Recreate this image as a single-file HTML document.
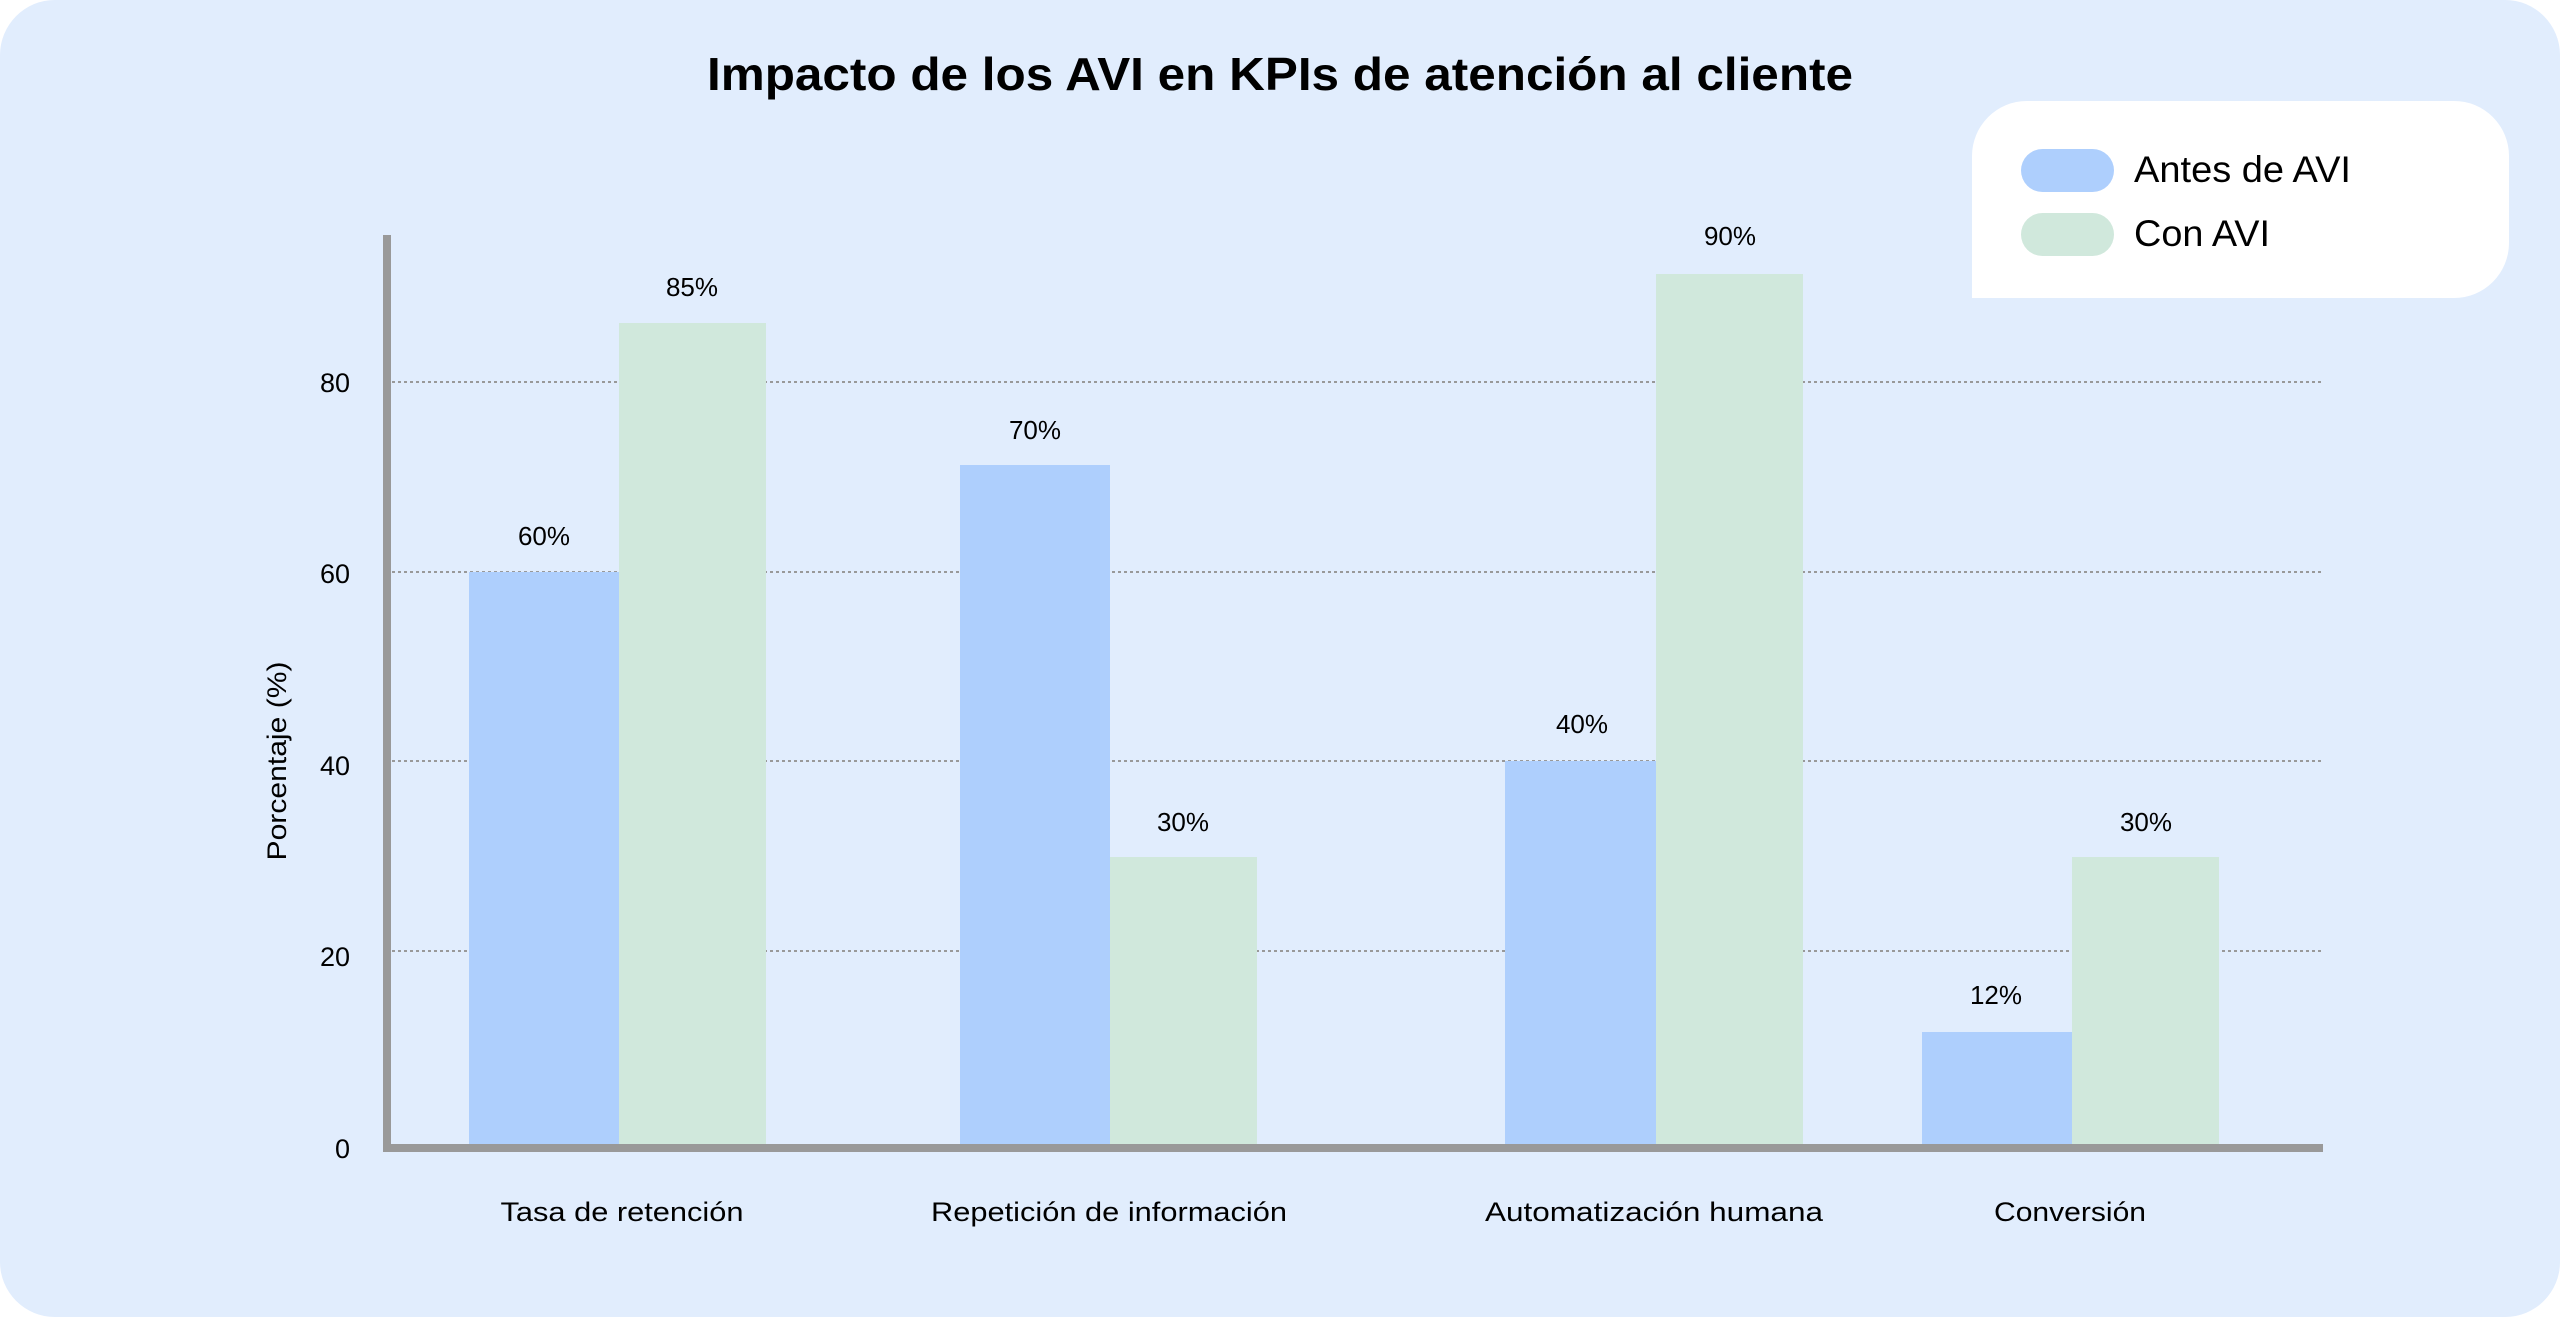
<!DOCTYPE html>
<html><head><meta charset="utf-8"><style>
html,body{margin:0;padding:0;background:#fff;}
svg{display:block;}
text{font-family:"Liberation Sans",sans-serif;fill:#000;}
</style></head><body>
<svg width="2560" height="1317" viewBox="0 0 2560 1317" xmlns="http://www.w3.org/2000/svg">
<rect x="0" y="0" width="2560" height="1317" rx="55" fill="#e1edfd"/>
<text x="1280" y="90" text-anchor="middle" font-size="46" font-weight="bold" textLength="1146" lengthAdjust="spacingAndGlyphs">Impacto de los AVI en KPIs de atención al cliente</text>
<path d="M1972 101 H2454 A55 55 0 0 1 2509 156 V243 A55 55 0 0 1 2454 298 H1972 V156 A55 55 0 0 1 2027 101 Z" fill="#fff"/>
<rect x="2021" y="149" width="93" height="43" rx="21.5" fill="#aecffd"/>
<rect x="2021" y="213" width="93" height="43" rx="21.5" fill="#d0e8dc"/>
<text x="2134" y="172" font-size="37" dominant-baseline="middle" textLength="217" lengthAdjust="spacingAndGlyphs">Antes de AVI</text>
<text x="2134" y="236" font-size="37" dominant-baseline="middle" textLength="136" lengthAdjust="spacingAndGlyphs">Con AVI</text>
<g stroke="#999" stroke-width="2" stroke-dasharray="3,3">
<line x1="392" y1="382" x2="2323" y2="382"/>
<line x1="392" y1="572" x2="2323" y2="572"/>
<line x1="392" y1="761" x2="2323" y2="761"/>
<line x1="392" y1="951" x2="2323" y2="951"/>
</g>
<g fill="#aecffd">
<rect x="469" y="572" width="150" height="576"/>
<rect x="960" y="465" width="150" height="683"/>
<rect x="1505" y="761" width="151" height="387"/>
<rect x="1922" y="1032" width="150" height="116"/>
</g>
<g fill="#d0e8dc">
<rect x="619" y="323" width="147" height="825"/>
<rect x="1110" y="857" width="147" height="291"/>
<rect x="1656" y="274" width="147" height="874"/>
<rect x="2072" y="857" width="147" height="291"/>
</g>
<g font-size="26" text-anchor="middle">
<text x="544" y="545">60%</text>
<text x="692" y="296">85%</text>
<text x="1035" y="439">70%</text>
<text x="1183" y="831">30%</text>
<text x="1582" y="733">40%</text>
<text x="1730" y="245">90%</text>
<text x="1996" y="1004">12%</text>
<text x="2146" y="831">30%</text>
</g>
<rect x="383" y="235" width="8" height="917" fill="#999"/>
<rect x="383" y="1144" width="1940" height="8" fill="#999"/>
<g font-size="27" text-anchor="end">
<text x="350" y="1158">0</text>
<text x="350" y="966">20</text>
<text x="350" y="775">40</text>
<text x="350" y="583">60</text>
<text x="350" y="392">80</text>
</g>
<text transform="translate(286,761) rotate(-90)" font-size="27" text-anchor="middle" textLength="199" lengthAdjust="spacingAndGlyphs">Porcentaje (%)</text>
<g font-size="27" text-anchor="middle">
<text x="622" y="1221" textLength="243" lengthAdjust="spacingAndGlyphs">Tasa de retención</text>
<text x="1109" y="1221" textLength="356" lengthAdjust="spacingAndGlyphs">Repetición de información</text>
<text x="1654" y="1221" textLength="338" lengthAdjust="spacingAndGlyphs">Automatización humana</text>
<text x="2070" y="1221" textLength="152" lengthAdjust="spacingAndGlyphs">Conversión</text>
</g>
</svg>
</body></html>
